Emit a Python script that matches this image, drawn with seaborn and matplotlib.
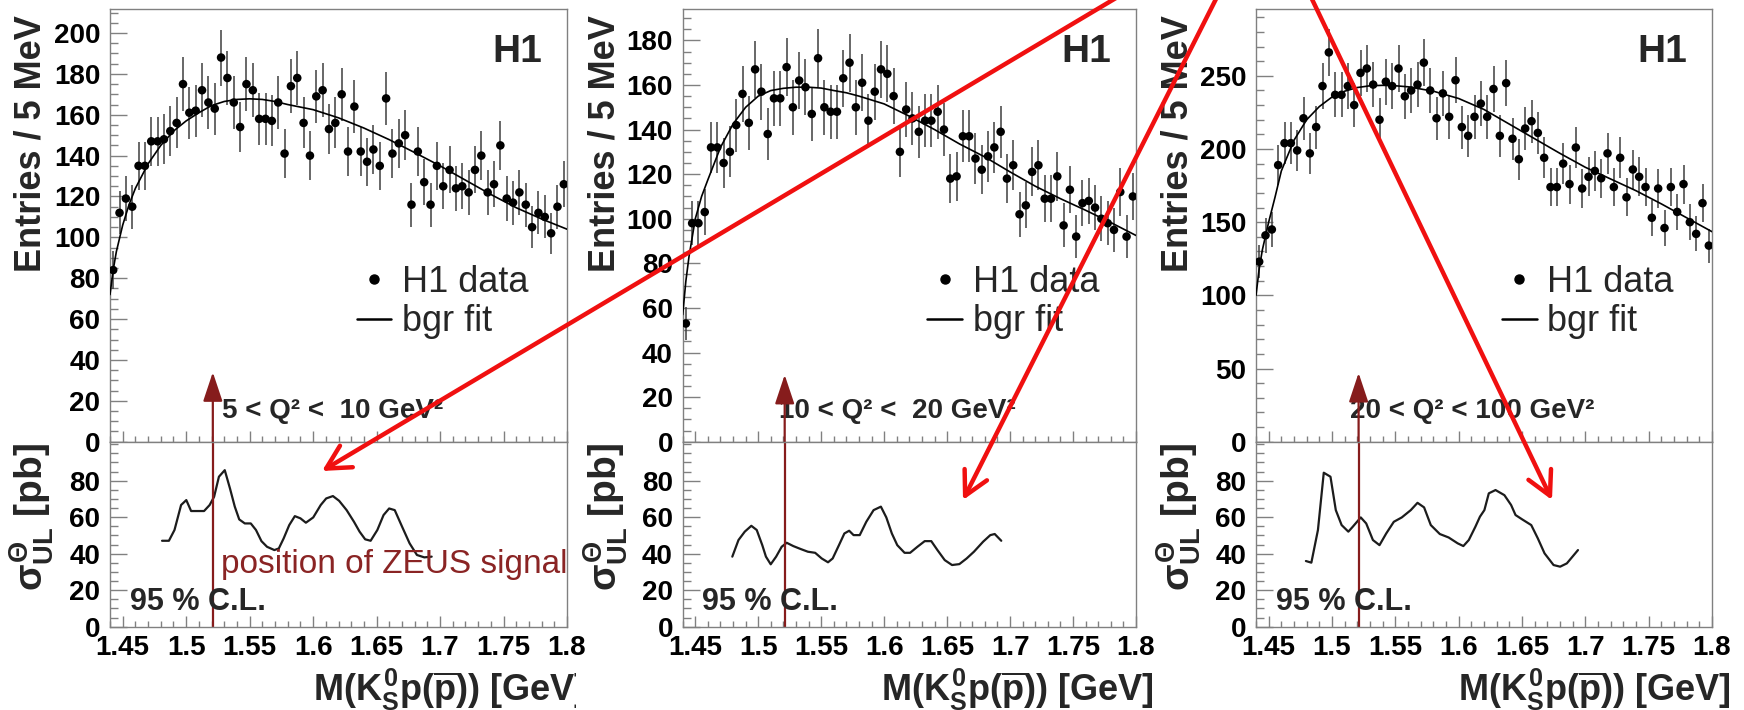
import numpy as np
import pandas as pd
import matplotlib
matplotlib.use("Agg")
import matplotlib.pyplot as plt
import seaborn as sns
from matplotlib.lines import Line2D
from matplotlib.patches import FancyArrowPatch
from matplotlib.ticker import MultipleLocator, FixedLocator, FuncFormatter
from matplotlib.transforms import Bbox, TransformedBbox

# ---------------------------------------------------------------------------
# Data: K0s p(pbar) invariant mass spectra in three Q^2 bins (5 MeV bins)
# ---------------------------------------------------------------------------
N_BINS = 72
bin_centres = np.round(1.4425 + 0.005 * np.arange(N_BINS), 4)

counts_q2_5_10 = [84, 112, 119, 115, 135, 135, 147, 147, 148, 152,
                  156, 175, 161, 162, 172, 166, 163, 188, 178, 166,
                  154, 175, 172, 158, 158, 157, 166, 141, 174, 178,
                  156, 140, 169, 172, 153, 156, 170, 142, 164, 142,
                  137, 143, 135, 168, 141, 146, 150, 116, 142, 127,
                  116, 135, 125, 133, 124, 125, 122, 133, 140, 122,
                  126, 145, 119, 117, 122, 116, 105, 112, 110, 102,
                  115, 126]
counts_q2_10_20 = [53, 98, 98, 103, 132, 132, 125, 130, 142, 156,
                   143, 167, 157, 138, 154, 154, 168, 150, 162, 159,
                   147, 172, 150, 148, 148, 163, 170, 150, 161, 144,
                   157, 167, 165, 155, 130, 149, 145, 139, 144, 144,
                   148, 140, 118, 119, 137, 137, 127, 122, 128, 132,
                   139, 118, 124, 102, 106, 121, 124, 109, 109, 119,
                   97, 113, 92, 107, 108, 105, 100, 98, 95, 112,
                   92, 110]
counts_q2_20_100 = [123, 141, 145, 189, 204, 204, 199, 221, 197, 215,
                    243, 266, 237, 237, 243, 230, 252, 255, 244, 220,
                    246, 243, 255, 236, 240, 244, 259, 240, 221, 238,
                    222, 247, 215, 209, 222, 231, 222, 241, 209, 245,
                    207, 193, 214, 219, 211, 194, 174, 174, 190, 176,
                    201, 173, 181, 185, 180, 197, 174, 194, 167, 186,
                    181, 174, 153, 173, 146, 174, 157, 176, 150, 142,
                    163, 134]

# background fit curves
fit_mass = [1.440, 1.4425, 1.445, 1.450, 1.455, 1.460, 1.470, 1.480, 1.490, 1.500,
            1.510, 1.520, 1.530, 1.540, 1.550, 1.560, 1.570, 1.580, 1.600, 1.620,
            1.640, 1.660, 1.680, 1.700, 1.720, 1.740, 1.760, 1.780, 1.800]
fit_q2_5_10 = [72, 84, 93, 106, 116, 124, 136, 145, 152, 157,
               161, 164.5, 166.5, 167.5, 167.8, 167.5, 166.5, 165, 162.5, 158.5,
               153.5, 147.8, 141.5, 135, 128, 121, 114.5, 109, 104]
fit_q2_10_20 = [57, 72, 83, 100, 110, 117.5, 132, 142.5, 150, 155,
                157.5, 158.5, 159, 159, 158.6, 157.5, 156.5, 155, 151.5, 146,
                140, 133.5, 127.7, 121, 114.6, 109, 103.8, 98.3, 92.5]
fit_q2_20_100 = [100, 118, 131, 150, 167, 185, 206, 220, 229, 235.5,
                 239.5, 242, 243.2, 243.5, 243.2, 242.5, 241, 239.5, 234.5, 227,
                 217, 207, 197, 187.5, 179.5, 171.5, 162.5, 153, 143.5]

# 95% C.L. upper limits on the cross section
ul_mass_q2_5_10 = [1.481, 1.4864, 1.4908, 1.496, 1.5001, 1.5039, 1.5083, 1.5141, 1.5185, 1.522,
                   1.5258, 1.5304, 1.5345, 1.5383, 1.5418, 1.5462, 1.5509, 1.555, 1.5593, 1.5637,
                   1.5695, 1.573, 1.5768, 1.5812, 1.5856, 1.59, 1.5943, 1.6001, 1.606, 1.6103,
                   1.6156, 1.6205, 1.6264, 1.6322, 1.6366, 1.641, 1.6453, 1.6506, 1.6555, 1.6599,
                   1.6643, 1.6701, 1.676, 1.6818, 1.6876, 1.6934]
ul_q2_5_10 = [47.1, 47.1, 53, 66.7, 69.4, 63.4, 63.4, 63.4, 66.7, 71.2,
              82.2, 85.8, 75.8, 65.8, 58.8, 56.6, 56.6, 53, 46.9, 43.8,
              42, 42.9, 48.4, 55.7, 60.6, 59.4, 57, 59.9, 66.7, 70.3,
              71.6, 69, 63.9, 57.5, 52.1, 47.9, 47.1, 53, 61.2, 64.8,
              63.9, 54.8, 45.7, 39.3, 38, 38.4]
ul_mass_q2_10_20 = [1.4794, 1.4843, 1.4893, 1.4945, 1.4988, 1.5032, 1.5061, 1.5099, 1.5142, 1.5186,
                    1.5226, 1.5278, 1.5336, 1.5394, 1.5452, 1.5504, 1.5554, 1.5591, 1.5641, 1.5684,
                    1.5722, 1.5757, 1.5806, 1.5858, 1.5916, 1.5974, 1.6017, 1.6061, 1.6104, 1.6162,
                    1.6206, 1.6264, 1.6322, 1.6374, 1.6423, 1.6481, 1.6539, 1.6597, 1.6655, 1.6713,
                    1.6786, 1.6843, 1.6878, 1.693]
ul_q2_10_20 = [38.4, 47.5, 52.1, 55.3, 53, 44.7, 38.4, 34.2, 38.4, 43.8,
               46, 44.2, 42.6, 41.1, 40.5, 37.4, 35.3, 37.4, 44.7, 51.1,
               52.6, 50.2, 50.2, 57.5, 63.9, 65.8, 59.9, 51.1, 44.7, 40.5,
               40.5, 43.8, 46.9, 46.9, 42, 36.5, 33.8, 34.3, 37.4, 41.1,
               46.6, 50.2, 50.8, 47.1]
ul_mass_q2_20_100 = [1.4794, 1.4837, 1.4889, 1.4935, 1.4988, 1.5030, 1.5076, 1.5129, 1.5164, 1.5227,
                     1.5270, 1.5323, 1.5375, 1.5428, 1.5488, 1.5551, 1.5622, 1.5675, 1.5727, 1.5780,
                     1.5851, 1.5921, 1.5992, 1.6037, 1.6080, 1.6132, 1.6168, 1.6203, 1.6238, 1.6291,
                     1.6361, 1.6414, 1.6449, 1.6502, 1.6573, 1.6625, 1.6678, 1.6749, 1.6801, 1.6854,
                     1.6942]
ul_q2_20_100 = [36, 35.1, 53, 84.4, 82.2, 63.9, 55.7, 52.1, 54.8, 59.9,
                56.6, 47.5, 44.7, 51.1, 57.5, 59.9, 63.9, 67.9, 65.4, 55.7,
                50.8, 48.9, 45.7, 44.2, 47.5, 54.8, 60.3, 63.9, 73.1, 74.9,
                72.1, 66.7, 61.2, 58.8, 55.7, 48.4, 40.2, 33.8, 32.9, 34.7,
                42]

q2_labels = ["5 < Q² <  10 GeV²", "10 < Q² <  20 GeV²", "20 < Q² < 100 GeV²"]
zeus_mass = 1.521          # position of the ZEUS signal [GeV]
arrow_tip = [34, 30, 47]   # arrow tip height in each spectrum (entries)

panels = [
    dict(counts=counts_q2_5_10, fit=fit_q2_5_10, ul_m=ul_mass_q2_5_10, ul=ul_q2_5_10,
         ymax=212, major=20, minor=5),
    dict(counts=counts_q2_10_20, fit=fit_q2_10_20, ul_m=ul_mass_q2_10_20, ul=ul_q2_10_20,
         ymax=194.3, major=20, minor=5),
    dict(counts=counts_q2_20_100, fit=fit_q2_20_100, ul_m=ul_mass_q2_20_100, ul=ul_q2_20_100,
         ymax=296, major=50, minor=10),
]

# ---------------------------------------------------------------------------
# Style
# ---------------------------------------------------------------------------
sns.set_theme(style="ticks")
plt.rcParams.update({
    "font.family": ["Liberation Sans", "DejaVu Sans"],
    "font.weight": "bold",
    "axes.labelweight": "bold",
    "mathtext.fontset": "custom",
    "mathtext.rm": "Liberation Sans:bold",
    "mathtext.it": "Liberation Sans:bold",
    "mathtext.bf": "Liberation Sans:bold",
    "mathtext.sf": "Liberation Sans:bold",
    "axes.edgecolor": "#808080",
    "axes.linewidth": 1.0,
    "xtick.color": "#808080",
    "ytick.color": "#808080",
    "xtick.labelcolor": "black",
    "ytick.labelcolor": "black",
    "axes.grid": False,
})

FIG_W, FIG_H = 1744, 710
fig = plt.figure(figsize=(FIG_W / 100, FIG_H / 100), dpi=100)
fig.patch.set_facecolor("white")

lefts = [110, 682.7, 1256]
rights = [567, 1136, 1712]
y_top, y_mid, y_bot = 8.5, 441.7, 626.7
q2_x = [0.244, 0.212, 0.206]

MAROON = "#861c1c"
tick_fmt = FuncFormatter(lambda v, p: f"{v:g}")
clip_first = TransformedBbox(Bbox([[0, 0], [576 / FIG_W, 1]]), fig.transFigure)

for k, pan in enumerate(panels):
    l = lefts[k] / FIG_W
    w = (rights[k] - lefts[k]) / FIG_W
    axu = fig.add_axes([l, 1 - y_mid / FIG_H, w, (y_mid - y_top) / FIG_H])
    axl = fig.add_axes([l, 1 - y_bot / FIG_H, w, (y_bot - y_mid) / FIG_H], sharex=axu)

    # --- spectrum with Poisson errors and background fit ---
    df = pd.DataFrame({"mass": bin_centres, "entries": pan["counts"]})
    axu.errorbar(df["mass"], df["entries"], yerr=np.sqrt(df["entries"]), fmt="none",
                 ecolor="#3f3f3f", elinewidth=1.1, capsize=0, zorder=2)
    sns.scatterplot(data=df, x="mass", y="entries", ax=axu, color="black", s=38,
                    edgecolor="none", linewidth=0, zorder=3)
    sns.lineplot(x=fit_mass, y=pan["fit"], ax=axu, color="black", linewidth=1.2,
                 estimator=None, sort=False, zorder=4)

    axu.set_xlim(1.44, 1.80)
    axu.set_ylim(0, pan["ymax"])
    axu.xaxis.set_major_locator(MultipleLocator(0.05))
    axu.xaxis.set_minor_locator(MultipleLocator(0.01))
    axu.yaxis.set_major_locator(MultipleLocator(pan["major"]))
    axu.yaxis.set_minor_locator(MultipleLocator(pan["minor"]))
    axu.tick_params(axis="x", which="both", direction="in", bottom=True, top=False,
                    labelbottom=False)
    axu.tick_params(axis="x", which="major", length=8, width=1)
    axu.tick_params(axis="x", which="minor", length=4, width=1)
    axu.tick_params(axis="y", which="both", direction="in", left=True, right=False)
    axu.tick_params(axis="y", which="major", length=12, width=1, labelsize=20, pad=7)
    axu.tick_params(axis="y", which="minor", length=6, width=1)
    axu.set_xlabel("")
    axu.set_ylabel("Entries / 5 MeV", fontsize=26, ha="right", va="center")
    axu.yaxis.set_label_coords(-0.172, 0.985)

    axu.text(0.945, 0.90, "H1", transform=axu.transAxes, ha="right", va="center",
             fontsize=28, fontweight="bold")
    handles = [Line2D([], [], marker="o", ls="none", color="black", markersize=6.5),
               Line2D([], [], color="black", lw=1.8)]
    axu.legend(handles, ["H1 data", "bgr fit"], loc="center left",
               bbox_to_anchor=(0.54, 0.322), frameon=False,
               prop={"size": 26, "weight": "normal"}, handlelength=0.95,
               handletextpad=0.3, borderpad=0, borderaxespad=0, labelspacing=0.12)
    axu.text(q2_x[k], 0.054, q2_labels[k], transform=axu.transAxes, fontsize=20,
             ha="left", va="baseline")
    axu.annotate("", xy=(zeus_mass, arrow_tip[k]), xytext=(zeus_mass, 0),
                 arrowprops=dict(arrowstyle="-|>,head_length=1.8,head_width=0.6",
                                 mutation_scale=10, color=MAROON, lw=1.6,
                                 shrinkA=0, shrinkB=0),
                 annotation_clip=False)

    # --- upper limit on the cross section ---
    sns.lineplot(x=pan["ul_m"], y=pan["ul"], ax=axl, color="#1c1c1c", linewidth=1.6,
                 estimator=None, sort=False)
    axl.axvline(zeus_mass, color=MAROON, lw=1.6)
    axl.set_ylim(0, 101.4)
    axl.yaxis.set_major_locator(FixedLocator([0, 20, 40, 60, 80]))
    axl.yaxis.set_minor_locator(MultipleLocator(5))
    axl.xaxis.set_major_formatter(tick_fmt)
    axl.tick_params(axis="x", which="both", direction="in", bottom=True, top=False,
                    labelbottom=True)
    axl.tick_params(axis="x", which="major", length=8, width=1, labelsize=20, pad=6)
    axl.tick_params(axis="x", which="minor", length=4, width=1)
    axl.tick_params(axis="y", which="both", direction="in", left=True, right=False)
    axl.tick_params(axis="y", which="major", length=12, width=1, labelsize=20, pad=7)
    axl.tick_params(axis="y", which="minor", length=6, width=1)
    axl.set_ylabel(r"$\sigma^{\Theta}_{UL}$ [pb]", fontsize=28, ha="right", va="center")
    axl.yaxis.set_label_coords(-0.17, 0.995)
    axl.set_xlabel(r"$M(K^{0}_{S}p(\overline{p}))$ [GeV]", fontsize=26, ha="right",
                   va="center")
    axl.xaxis.set_label_coords(1.04, -0.34)
    axl.text(0.043, 0.09, "95 % C.L.", transform=axl.transAxes, fontsize=22,
             fontweight="bold", va="baseline")

    if k == 0:
        zt = axl.text(0.243, 0.289, "position of ZEUS signal", transform=axl.transAxes,
                      color="#8a2424", fontsize=24, fontweight="normal", va="baseline")
        zt.set_clip_box(clip_first)
        zt.set_clip_on(True)
        axl.xaxis.label.set_clip_box(clip_first)
        axl.xaxis.label.set_clip_on(True)

# red pointers from above towards the three limit curves
pointers = [((1121, -5), (322, 471)), ((1218, -5), (963, 500)), ((1310, -5), (1552, 500))]
for (x0, y0), (x1, y1) in pointers:
    fig.add_artist(FancyArrowPatch((x0 / FIG_W, 1 - y0 / FIG_H), (x1 / FIG_W, 1 - y1 / FIG_H),
                                   transform=fig.transFigure,
                                   arrowstyle="->,head_length=0.85,head_width=0.45",
                                   mutation_scale=20, color="#f01010", lw=3.2,
                                   shrinkA=0, shrinkB=0, zorder=10))

fig.savefig("out.png", dpi=100, facecolor="white")
